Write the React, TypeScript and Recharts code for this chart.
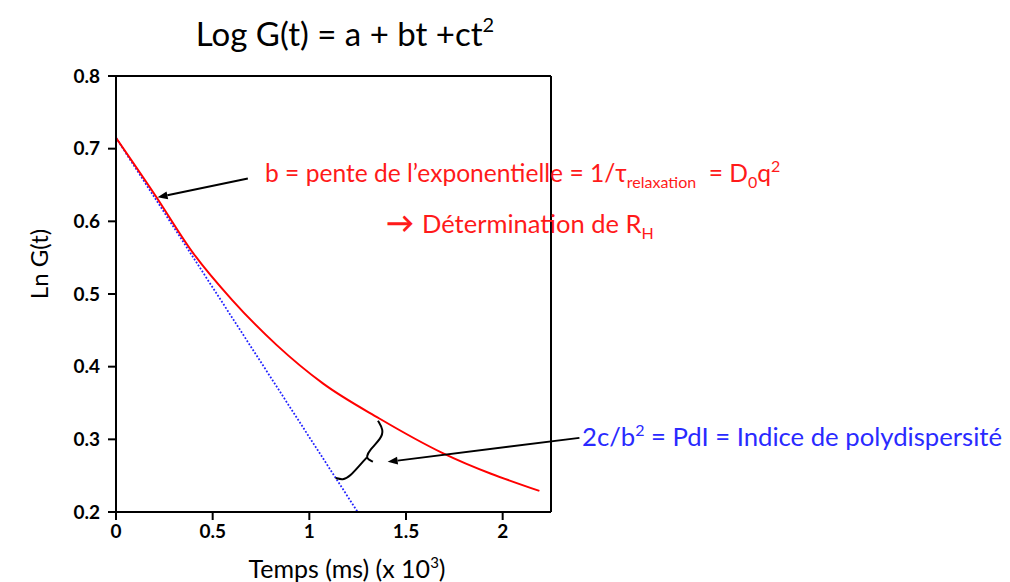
import React from "react"
import { LineChart, Line, XAxis, YAxis, ReferenceLine } from "recharts"

// temps (x 10^3 ms) / Ln G(t)
const times = [0, 0.2, 0.4, 0.6, 0.83, 1.07, 1.36, 1.69, 2.19]
const lnG = [0.715, 0.637, 0.556, 0.492, 0.43, 0.377, 0.329, 0.281, 0.229]

// tangente initiale (pente b)
const tangentT = [0, 1.25]
const tangentV = [0.715, 0.2]

// accolade entre la courbe et la tangente
const braceTopT = [1.355, 1.384, 1.372, 1.312, 1.295, 1.303, 1.329]
const braceTopV = [0.3256, 0.3128, 0.3014, 0.2853, 0.276, 0.2725, 0.2692]
const braceBotT = [1.298, 1.269, 1.209, 1.174, 1.136]
const braceBotV = [0.2752, 0.267, 0.2486, 0.244, 0.2468]

const xTicks = [0, 0.5, 1, 1.5, 2]
const yTicks = [0.2, 0.3, 0.4, 0.5, 0.6, 0.7, 0.8]

const zip = (ts: number[], vs: number[]) => ts.map((t, i) => ({ t, v: vs[i] }))

const curve = zip(times, lnG)
const tangent = zip(tangentT, tangentV)
const braceTop = zip(braceTopT, braceTopV)
const braceBot = zip(braceBotT, braceBotV)

const FONT = "Lato, 'Open Sans', sans-serif"

function Arrow(p: any) {
  const { x1, y1, x2, y2 } = p
  const a = Math.atan2(y2 - y1, x2 - x1)
  const L = 10
  const w = 4
  const bx = x2 - L * Math.cos(a)
  const by = y2 - L * Math.sin(a)
  const px = -Math.sin(a) * w
  const py = Math.cos(a) * w
  return (
    <g>
      <line x1={x1} y1={y1} x2={bx} y2={by} stroke="#000" strokeWidth={2} />
      <polygon points={`${x2},${y2} ${bx + px},${by + py} ${bx - px},${by - py}`} fill="#000" />
    </g>
  )
}

const tickStyle = { fill: "#000", fontSize: 19, fontWeight: 700, fontFamily: FONT }

export default function App() {
  return (
    <div style={{ position: "absolute", left: 0, top: 0, width: 1010, height: 582, background: "#fff", fontFamily: FONT }}>
      <LineChart width={1010} height={582} margin={{ top: 76, right: 459, bottom: 40, left: 56 }}>
        <XAxis
          dataKey="t"
          type="number"
          domain={[0, 2.25]}
          ticks={xTicks}
          allowDataOverflow
          axisLine={{ stroke: "#000", strokeWidth: 2 }}
          tickLine={{ stroke: "#000", strokeWidth: 2 }}
          tickSize={8}
          tickMargin={5}
          tick={tickStyle}
          height={30}
        />
        <YAxis
          dataKey="v"
          type="number"
          domain={[0.2, 0.8]}
          ticks={yTicks}
          allowDataOverflow
          tickFormatter={(v: number) => v.toFixed(1)}
          axisLine={{ stroke: "#000", strokeWidth: 2 }}
          tickLine={{ stroke: "#000", strokeWidth: 2 }}
          tickSize={8}
          tickMargin={8}
          tick={tickStyle}
          width={60}
        />
        <ReferenceLine y={0.8} stroke="#000" strokeWidth={2} />
        <ReferenceLine x={2.25} stroke="#000" strokeWidth={2} />
        <Line data={tangent} dataKey="v" type="linear" stroke="#2222ff" strokeWidth={1.8} strokeDasharray="1.8 1.8" dot={false} activeDot={false} isAnimationActive={false} />
        <Line data={curve} dataKey="v" type="monotone" stroke="#ff0000" strokeWidth={2} dot={false} activeDot={false} isAnimationActive={false} />
        <Line data={braceTop} dataKey="v" type="basis" stroke="#000" strokeWidth={2} dot={false} activeDot={false} isAnimationActive={false} />
        <Line data={braceBot} dataKey="v" type="basis" stroke="#000" strokeWidth={2} dot={false} activeDot={false} isAnimationActive={false} />
        <ReferenceLine
          segment={[{ x: 0.682, y: 0.659 }, { x: 0.215, y: 0.633 }]}
          ifOverflow="visible"
          shape={(p: any) => <Arrow {...p} />}
        />
        <ReferenceLine
          segment={[{ x: 2.397, y: 0.302 }, { x: 1.405, y: 0.269 }]}
          ifOverflow="visible"
          shape={(p: any) => <Arrow {...p} />}
        />
      </LineChart>

      <div style={{ position: "absolute", left: 0, width: 690, top: 12, textAlign: "center", fontSize: 33, color: "#000", whiteSpace: "nowrap" }}>
        Log G(t) = a + bt +ct<sup style={{ fontSize: 20, verticalAlign: 14 }}>2</sup>
      </div>
      <div style={{ position: "absolute", left: 0, width: 694, top: 553, textAlign: "center", fontSize: 25, color: "#000", whiteSpace: "nowrap" }}>
        Temps (ms) (x 10<sup style={{ fontSize: 15, verticalAlign: 10 }}>3</sup>)
      </div>
      <div style={{ position: "absolute", left: 38, top: 264, transform: "translate(-50%, -50%) rotate(-90deg)", fontSize: 24, color: "#000", whiteSpace: "nowrap" }}>
        Ln G(t)
      </div>
      <div style={{ position: "absolute", left: 265, top: 156, fontSize: 24.6, color: "#ff1a1a", whiteSpace: "nowrap" }}>
        b = pente de l’exponentielle = 1/τ<sub style={{ fontSize: 16, verticalAlign: -6 }}>relaxation</sub>&nbsp; = D<sub style={{ fontSize: 16, verticalAlign: -6 }}>0</sub>q<sup style={{ fontSize: 16, verticalAlign: 10 }}>2</sup>
      </div>
      <div style={{ position: "absolute", left: 386, top: 205, fontSize: 25.5, color: "#ff1a1a", whiteSpace: "nowrap" }}>
        <span style={{ fontWeight: 700, fontSize: 28, marginRight: 8 }}>→</span>Détermination de R<sub style={{ fontSize: 16, verticalAlign: -6 }}>H</sub>
      </div>
      <div style={{ position: "absolute", left: 582, top: 420, fontSize: 25.7, color: "#2a2aff", whiteSpace: "nowrap" }}>
        2c/b<sup style={{ fontSize: 16, verticalAlign: 10 }}>2</sup> = PdI = Indice de polydispersité
      </div>
    </div>
  )
}
